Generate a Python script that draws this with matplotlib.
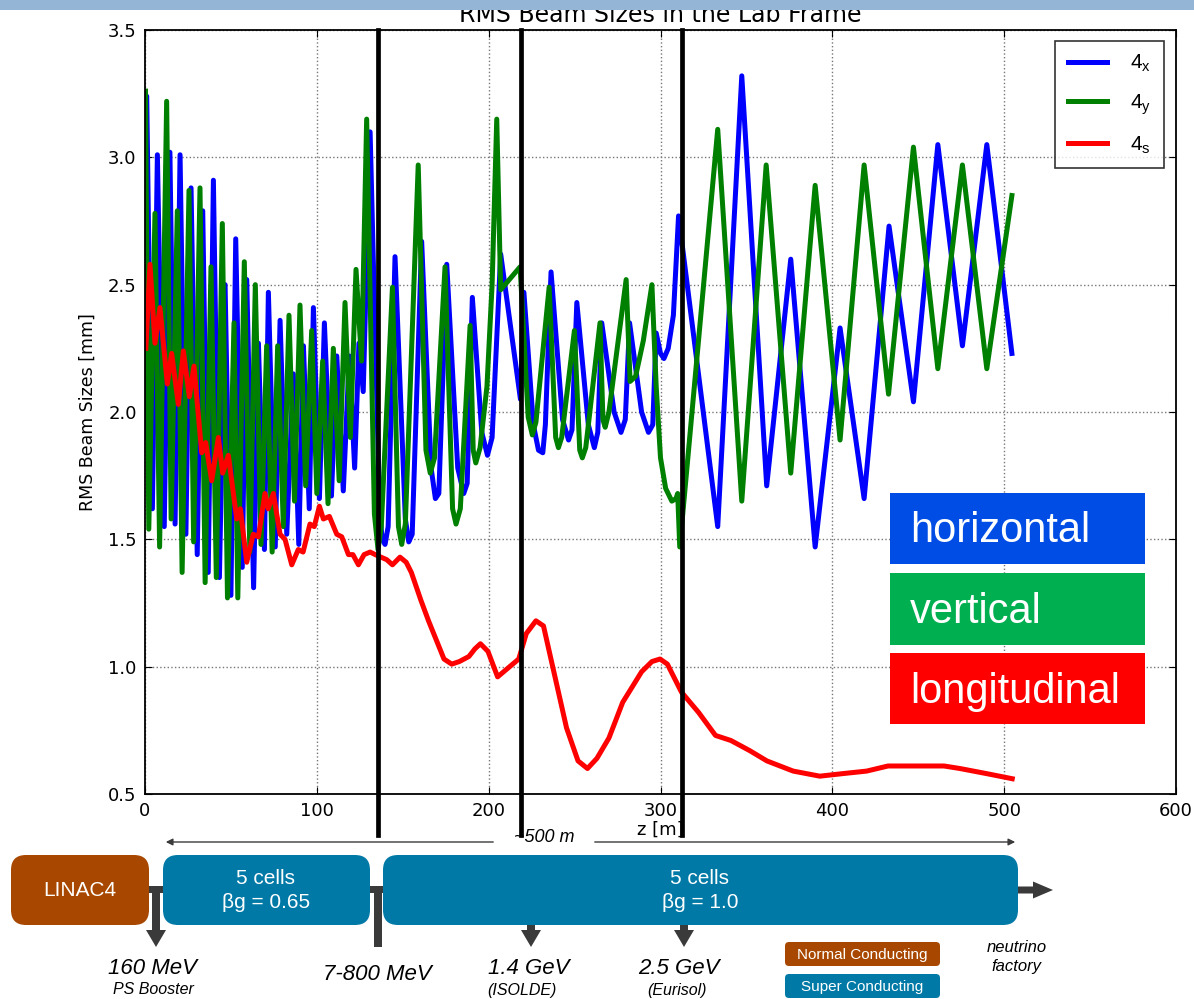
import matplotlib
matplotlib.use("Agg")
import matplotlib.pyplot as plt
from matplotlib.patches import Rectangle, FancyBboxPatch, FancyArrow

# ---- data --------------------------------------------------------------------
blue_z = [0, 1.0, 4.3, 7.2, 11.2, 14.5, 17.5, 20.4, 23.8, 26.8, 30.4, 33.6, 36.8,
          39.8, 43.3, 46.6, 50.0, 52.8, 56.6, 59.2, 63.2, 66.0, 69.5, 71.8, 75.8,
          78.6, 82.5, 86.3, 89.5, 92.2, 95.6, 98.0, 101.5, 104.4, 108.5, 111.6,
          115.4, 118.9, 122.0, 124.5, 127.0, 131.0,
          136.5, 138.0, 139.7, 141.5, 145.5, 151.5, 153.5, 155.5, 161.0, 166.5,
          169.0, 171.0, 175.6, 182.0, 185.5, 187.5, 190.5, 196.0, 199.3, 202.0,
          207.0, 218.5, 220.5, 226.0, 229.0, 231.5, 233.0, 236.3, 243.0, 246.5,
          248.5, 251.3, 258.0, 261.5, 263.5, 265.8, 273.0, 277.0, 279.5, 282.0,
          289.0, 293.0, 295.5, 297.5, 300.0, 302.0, 304.5, 307.5, 310.5,
          333.3, 347.3, 361.8, 375.8, 390.0, 404.5, 418.5, 433.0, 447.2, 461.4,
          475.7, 489.9, 504.5]
blue_y = [1.90, 3.24, 1.62, 3.01, 1.55, 3.02, 1.56, 3.01, 1.52, 2.88, 1.44, 2.79, 1.37,
          2.91, 1.35, 2.50, 1.28, 2.68, 1.39, 2.52, 1.31, 2.27, 1.46, 2.47, 1.47,
          2.36, 1.52, 2.15, 1.48, 2.26, 1.62, 2.41, 1.66, 2.35, 1.67, 2.22,
          1.69, 2.22, 1.78, 2.27, 2.08, 3.10,
          1.62, 1.50, 1.48, 1.55, 2.61, 1.58, 1.49, 1.52, 2.67, 1.78,
          1.66, 1.68, 2.58, 1.78, 1.68, 1.72, 2.45, 1.92, 1.83, 1.90,
          2.62, 2.05, 2.47, 1.95, 1.85, 1.84, 1.95, 2.55, 1.97, 1.89,
          1.93, 2.43, 1.95, 1.86, 1.92, 2.35, 2.00, 1.92, 1.97, 2.35,
          2.00, 1.92, 1.95, 2.31, 2.23, 2.21, 2.25, 2.38, 2.77,
          1.55, 3.32, 1.71, 2.60, 1.47, 2.33, 1.66, 2.73, 2.04, 3.05,
          2.26, 3.05, 2.23]

green_z = [0.3, 2.2, 5.8, 8.5, 12.6, 15.2, 18.8, 21.6, 25.6, 28.3, 32.0, 35.0, 38.4,
           41.5, 45.0, 48.0, 51.8, 54.0, 57.8, 61.0, 64.2, 67.5, 70.8, 74.0, 77.2,
           80.5, 83.8, 87.0, 90.2, 93.5, 97.0, 100.0, 103.4, 106.5, 109.6, 113.0,
           116.4, 119.5, 122.8, 126.0, 129.0,
           133.5, 135.6, 137.5, 144.0, 147.5, 149.4, 151.5, 159.0, 163.5, 166.0,
           168.5, 174.6, 179.0, 181.0, 183.5, 189.2, 191.0, 192.5, 195.0, 199.0,
           202.0, 204.7, 207.0, 218.3, 223.0, 225.4, 227.5, 235.2, 239.0, 240.6,
           242.5, 249.9, 253.0, 254.5, 256.5, 264.8, 266.5, 267.8, 270.0, 280.0,
           282.3, 285.5, 290.0, 295.0, 297.5, 300.0, 303.0, 306.6, 309.0, 310.0,
           311.2, 333.3, 347.3, 361.5, 375.8, 390.0, 404.5, 418.5, 432.7, 447.2,
           461.4, 475.7, 489.9, 504.5]
green_y = [3.26, 1.54, 2.78, 1.47, 3.22, 1.58, 2.79, 1.37, 2.87, 1.49, 2.88, 1.33, 2.57,
           1.35, 2.74, 1.27, 2.35, 1.27, 2.59, 1.45, 2.50, 1.48, 2.26, 1.45, 2.26,
           1.55, 2.38, 1.65, 2.42, 1.71, 2.32, 1.68, 2.20, 1.64, 2.25, 1.73,
           2.43, 1.90, 2.56, 2.20, 3.15,
           1.60, 1.46, 1.55, 2.49, 1.55, 1.48, 1.56, 2.97, 1.85, 1.76,
           1.82, 2.57, 1.62, 1.56, 1.62, 2.34, 1.85, 1.80, 1.86, 2.10,
           2.50, 3.15, 2.48, 2.57, 1.98, 1.91, 1.96, 2.49, 1.90, 1.86,
           1.90, 2.32, 1.85, 1.82, 1.86, 2.35, 1.97, 1.94, 2.00, 2.52,
           2.12, 2.14, 2.28, 2.50, 2.10, 1.82, 1.70, 1.65, 1.66, 1.68,
           1.47, 3.11, 1.65, 2.97, 1.76, 2.89, 1.89, 2.97, 2.07, 3.04,
           2.17, 2.97, 2.17, 2.85]

red_z = [0.5, 2.9, 5.8, 8.7, 13.0, 15.5, 19.4, 22.3, 25.8, 28.5, 33.0, 35.3, 38.8,
         42.7, 45.2, 48.5, 53.4, 55.5, 59.2, 63.0, 66.0, 69.8, 71.7, 74.7, 78.6,
         81.5, 85.4, 89.2, 92.0, 96.0, 98.5, 101.5, 103.8, 107.3, 111.6, 114.5,
         118.4, 121.0, 124.2, 127.5, 131.0, 134.0, 140.7, 144.0, 148.4, 152.0,
         155.0, 160.6, 165.0, 174.0, 178.5, 182.9, 188.5, 192.0, 195.2, 199.6,
         205.2, 217.5, 221.9, 227.5, 231.9, 238.6, 245.3, 252.0, 257.5, 263.0,
         270.0, 278.0, 289.0, 295.0, 299.7, 304.0, 312.2, 322.2, 332.0, 341.0,
         352.0, 361.9, 377.2, 392.7, 406.0, 420.0, 432.4, 452.3, 465.0, 474.3,
         489.8, 504.7]
red_y = [2.25, 2.58, 2.27, 2.41, 2.11, 2.23, 2.03, 2.24, 2.06, 2.18, 1.84, 1.88, 1.73,
         1.90, 1.76, 1.83, 1.58, 1.62, 1.41, 1.52, 1.51, 1.68, 1.62, 1.68, 1.52,
         1.50, 1.40, 1.46, 1.45, 1.56, 1.55, 1.63, 1.58, 1.59, 1.52, 1.51,
         1.44, 1.44, 1.40, 1.44, 1.45, 1.44, 1.42, 1.40, 1.43, 1.41,
         1.37, 1.26, 1.18, 1.03, 1.01, 1.02, 1.04, 1.07, 1.09, 1.06,
         0.96, 1.03, 1.13, 1.18, 1.16, 0.96, 0.76, 0.63, 0.60, 0.64,
         0.72, 0.86, 0.98, 1.02, 1.03, 1.01, 0.90, 0.82, 0.73, 0.71,
         0.67, 0.63, 0.59, 0.57, 0.58, 0.59, 0.61, 0.61, 0.61, 0.60,
         0.58, 0.56]

section_edges = [135.6, 218.9, 312.6]   # z [m] of the black separators
legend_labels = [r'$\mathregular{4_x}$', r'$\mathregular{4_y}$', r'$\mathregular{4_s}$']

W, H = 1194, 999
fig = plt.figure(figsize=(W / 100, H / 100), dpi=100)
ax = fig.add_axes([145 / W, 1 - 794 / H, 1031 / W, 764 / H])

lw = 3.6
ax.plot(blue_z, blue_y, color='#0000ff', lw=lw, label=legend_labels[0], solid_joinstyle='round')
ax.plot(green_z, green_y, color='#008000', lw=lw, label=legend_labels[1], solid_joinstyle='round')
ax.plot(red_z, red_y, color='#ff0000', lw=lw, label=legend_labels[2], solid_joinstyle='round')
for z in section_edges:
    ax.axvline(z, ymin=-0.054, ymax=1, color='k', lw=3.4, clip_on=False, zorder=10)

ax.set_xlim(0, 600)
ax.set_ylim(0.5, 3.5)
ax.set_xticks(range(0, 601, 100))
ax.set_yticks([0.5, 1.0, 1.5, 2.0, 2.5, 3.0, 3.5])
ax.grid(True, color='#777777', linestyle=':', lw=1)
ax.tick_params(direction='in', top=True, right=True, length=5, labelsize=13, pad=6)
for s in ax.spines.values():
    s.set_linewidth(1.3)
ax.set_xlabel('z [m]', fontsize=13, labelpad=0)
ax.set_ylabel('RMS Beam Sizes [mm]', fontsize=12.5, labelpad=8)

leg = ax.legend(loc='upper right', bbox_to_anchor=(0.988, 0.986), borderaxespad=0,
                handlelength=1.9, labelspacing=0.85, borderpad=0.6,
                handletextpad=1.1, fancybox=False,
                prop={'family': 'Liberation Sans', 'size': 15})
leg.get_frame().set_edgecolor('k')
leg.get_frame().set_linewidth(1.2)

fig.text(660 / W, 1 - 22 / H, 'RMS Beam Sizes in the Lab Frame', ha='center',
         va='baseline', fontsize=17)

# ---- overlay in pixel units: label boxes and the linac sketch ----------------
ov = fig.add_axes([0, 0, 1, 1], zorder=5)
ov.set_xlim(0, W)
ov.set_ylim(H, 0)
ov.axis('off')
ov.patch.set_alpha(0)

ov.add_patch(Rectangle((0, 0), W, 10, color='#94b5d5', lw=0))

font = 'Liberation Sans'
for (y0, y1), col, txt in [((493, 564), '#004de6', 'horizontal'),
                           ((573, 645), '#00b050', 'vertical'),
                           ((653, 724), '#ff0000', 'longitudinal')]:
    ov.add_patch(Rectangle((890, y0), 255, y1 - y0, color=col, lw=0))
    ov.text(910, (y0 + y1) / 2 + 14, txt, color='white', fontsize=30, family=font,
            ha='left', va='baseline')

brown, teal, dark = '#a84800', '#0079a6', '#3a3a3a'

# ~500 m span
ov.annotate('', xy=(163, 842), xytext=(496, 842),
            arrowprops=dict(arrowstyle='-|>', color=dark, lw=1, mutation_scale=10))
ov.annotate('', xy=(1018, 842), xytext=(592, 842),
            arrowprops=dict(arrowstyle='-|>', color=dark, lw=1, mutation_scale=10))
ov.text(544, 838, '~500 m', fontsize=13, style='italic', family=font, ha='center', va='center')

# connectors and arrows
ov.add_patch(Rectangle((145, 886), 22, 7, color=dark, lw=0))
ov.add_patch(Rectangle((366, 886), 20, 7, color=dark, lw=0))
ov.add_patch(Rectangle((374, 886), 8, 61, color=dark, lw=0))
for x0, y0 in [(156, 889), (531, 920), (684, 920)]:
    ov.add_patch(FancyArrow(x0, y0, 0, 947 - y0, width=8, head_width=20, head_length=17,
                            length_includes_head=True, color=dark, lw=0))
ov.add_patch(FancyArrow(1010, 890, 43, 0, width=7, head_width=17, head_length=20,
                        length_includes_head=True, color=dark, lw=0))

# boxes
for x0, x1, col in [(11, 149, brown), (163, 370, teal), (383, 1018, teal)]:
    ov.add_patch(FancyBboxPatch((x0, 855), x1 - x0, 70, color=col, lw=0,
                                boxstyle='round,pad=0,rounding_size=15'))
ov.text(80, 891, 'LINAC4', color='white', fontsize=15, family=font, ha='center', va='center')
for xc, bg in [(266, 'βg = 0.65'), (700, 'βg = 1.0')]:
    ov.text(xc, 878, '5 cells', color='white', fontsize=15, family=font, ha='center', va='center')
    ov.text(xc, 903, bg, color='white', fontsize=15, family=font, ha='center', va='center')

# energies below
for xc, yc, txt, fs in [(153, 968, '160 MeV', 16), (153, 990, 'PS Booster', 11.5),
                        (377, 975, '7-800 MeV', 16), (529, 968, '1.4 GeV', 16),
                        (522, 991, '(ISOLDE)', 11.5), (679, 968, '2.5 GeV', 16),
                        (677, 991, '(Eurisol)', 11.5), (1017, 947, 'neutrino', 12),
                        (1016, 966, 'factory', 12)]:
    ov.text(xc, yc, txt, fontsize=fs, style='italic', family=font, ha='center', va='center')

# conductor legend
for y0, col, txt in [(942, brown, 'Normal Conducting'), (974, teal, 'Super Conducting')]:
    ov.add_patch(FancyBboxPatch((785, y0), 155, 24, color=col, lw=0,
                                boxstyle='round,pad=0,rounding_size=4'))
    ov.text(862, y0 + 12.5, txt, color='white', fontsize=11, family=font,
            ha='center', va='center')

fig.savefig('out.png', dpi=100)
